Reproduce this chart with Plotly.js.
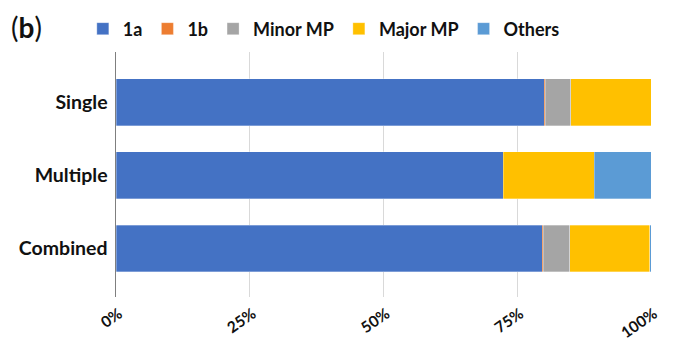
<!DOCTYPE html>
<html>
<head>
<meta charset="utf-8">
<script src="https://cdn.plot.ly/plotly-3.0.1.min.js"></script>
<style>html,body{margin:0;padding:0;background:#fff;}#chart{width:674px;height:341px;}</style>
</head>
<body>
<div id="chart"></div>
<script>
const categories = ['Single', 'Multiple', 'Combined'];
const seriesNames = ['1a', '1b', 'Minor MP', 'Major MP', 'Others'];
const v1a = [80.0, 72.4, 79.7];
const v1b = [0.2, 0.0, 0.2];
const vMinor = [4.8, 0.0, 4.9];
const vMajor = [15.0, 17.0, 15.0];
const vOthers = [0.0, 10.6, 0.2];
const colors = ['#4472C4', '#ED7D31', '#A5A5A5', '#FFC000', '#5B9BD5'];
const tickVals = [0, 25, 50, 75, 100];
const tickText = ['0%', '25%', '50%', '75%', '100%'];

const allValues = [v1a, v1b, vMinor, vMajor, vOthers];
const fontFam = 'Lato, "Open Sans", "Liberation Sans", sans-serif';

const traces = seriesNames.map((name, i) => ({
  type: 'bar',
  orientation: 'h',
  name: name,
  y: categories,
  x: allValues[i],
  marker: {color: colors[i], line: {color: 'rgba(255,255,255,0.6)', width: 0.5}},
  hoverinfo: 'x+y+name'
}));

const layout = {
  width: 674,
  height: 341,
  barmode: 'stack',
  bargap: 0.36,
  margin: {l: 116, r: 23, t: 52, b: 44, autoexpand: false},
  paper_bgcolor: '#ffffff',
  plot_bgcolor: '#ffffff',
  font: {family: fontFam, size: 14, color: '#111'},
  showlegend: true,
  legend: {
    orientation: 'h',
    x: -0.062, xanchor: 'left',
    y: 1.094, yanchor: 'middle',
    font: {family: fontFam, size: 18, color: '#111', weight: 'bold'},
    itemwidth: 30,
    traceorder: 'normal'
  },
  xaxis: {
    range: [0, 100],
    tickvals: tickVals,
    ticktext: tickText,
    tickangle: -35,
    ticklabelstandoff: 4,
    ticklabelshift: 3,
    tickfont: {family: fontFam, size: 15.5, color: '#111', weight: 'bold'},
    showgrid: true,
    gridcolor: '#d9d9d9',
    gridwidth: 1,
    zeroline: false,
    showline: false,
    fixedrange: true
  },
  yaxis: {
    type: 'category',
    categoryorder: 'array',
    categoryarray: categories,
    range: [2.664, -0.685],
    tickfont: {family: fontFam, size: 19.5, color: '#111', weight: 'bold'},
    ticklabelstandoff: 3,
    showline: true,
    linecolor: '#7f7f7f',
    linewidth: 1.5,
    ticks: '',
    ticklen: 0,
    showgrid: false,
    fixedrange: true
  },
  annotations: [{
    text: '(<b>b</b>)',
    xref: 'paper', yref: 'paper',
    x: -0.2, y: 1.1,
    xanchor: 'left', yanchor: 'middle',
    showarrow: false,
    font: {family: fontFam, size: 28, color: '#111'}
  }]
};

Plotly.newPlot('chart', traces, layout, {displayModeBar: false, staticPlot: true});
</script>
</body>
</html>
